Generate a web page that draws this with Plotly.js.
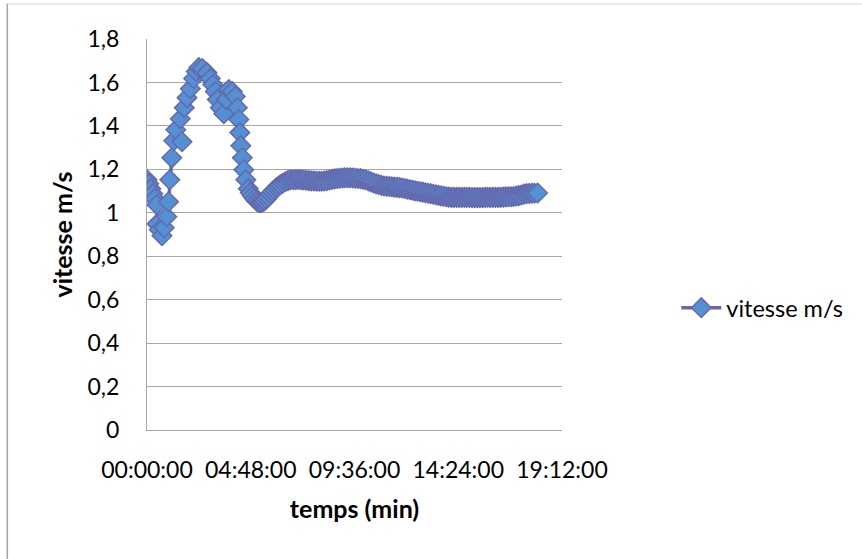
<!DOCTYPE html>
<html>
<head>
<meta charset="utf-8">
<script src="https://cdn.plot.ly/plotly-3.0.1.min.js"></script>
<style>
html,body{margin:0;padding:0;background:#fff;}
#chart{width:862px;height:559px;}
</style>
</head>
<body>
<div id="chart"></div>
<script>
// Time in hours (axis labels shown as hh:mm:ss)
const tempsHeures = [
  0.000, 0.083, 0.176, 0.268, 0.361, 0.453, 0.463, 0.569, 0.694, 0.801,
  0.916, 1.000, 1.055, 1.148, 1.240, 1.333, 1.620, 1.541, 1.726, 1.851,
  2.004, 2.156, 2.281, 2.397, 2.559, 2.777, 2.929, 3.045, 3.161, 3.253,
  3.392, 3.554, 3.670, 3.785, 3.947, 4.086, 4.179, 4.248, 4.294, 4.341,
  4.410, 4.479, 4.572, 4.688, 4.780, 4.873, 4.970, 5.058, 5.150, 5.243,
  5.340, 5.428, 5.520, 5.614, 5.710, 5.799, 5.890, 5.984, 6.080, 6.169,
  6.280, 6.400, 6.520, 6.632,
  6.76, 6.88, 7.00, 7.12, 7.24, 7.36, 7.48, 7.60, 7.72, 7.84,
  7.96, 8.08, 8.20, 8.32, 8.44, 8.56, 8.68, 8.80, 8.92, 9.04,
  9.16, 9.28, 9.40, 9.52, 9.64, 9.76, 9.88, 10.00, 10.12, 10.24,
  10.36, 10.48, 10.60, 10.72, 10.84, 10.96, 11.08, 11.20, 11.32, 11.44,
  11.56, 11.68, 11.80, 11.92, 12.04, 12.16, 12.28, 12.40, 12.52, 12.64,
  12.76, 12.88, 13.00, 13.12, 13.24, 13.36, 13.48, 13.60, 13.72, 13.84,
  13.96, 14.08, 14.20, 14.32, 14.44, 14.56, 14.68, 14.80, 14.92, 15.04,
  15.16, 15.28, 15.40, 15.52, 15.64, 15.76, 15.88, 16.00, 16.12, 16.24,
  16.36, 16.48, 16.60, 16.72, 16.84, 16.96, 17.08, 17.20, 17.32, 17.44,
  17.56, 17.68, 17.80, 17.92, 18.07
];
const vitesse = [
  1.152, 1.134, 1.111, 1.088, 1.065, 1.037, 0.949, 0.922, 0.894, 0.931,
  0.982, 1.051, 1.152, 1.253, 1.332, 1.382, 1.327, 1.433, 1.484, 1.530,
  1.571, 1.618, 1.650, 1.668, 1.664, 1.645, 1.618, 1.590, 1.558, 1.521,
  1.484, 1.456, 1.521, 1.567, 1.558, 1.535, 1.484, 1.429, 1.369, 1.309,
  1.253, 1.198, 1.152, 1.111, 1.092, 1.078, 1.066, 1.055, 1.049, 1.046,
  1.049, 1.055, 1.064, 1.074, 1.086, 1.097, 1.106, 1.115, 1.122, 1.129,
  1.136, 1.143, 1.148, 1.152,
  1.152, 1.152, 1.153, 1.152, 1.151, 1.150, 1.148, 1.147, 1.146, 1.145,
  1.145, 1.145, 1.146, 1.148, 1.151, 1.154, 1.156, 1.158, 1.159, 1.160,
  1.161, 1.161, 1.161, 1.160, 1.159, 1.158, 1.157, 1.154, 1.152, 1.147,
  1.142, 1.137, 1.133, 1.130, 1.126, 1.123, 1.122, 1.121, 1.120, 1.118,
  1.117, 1.116, 1.114, 1.112, 1.109, 1.106, 1.104, 1.101, 1.099, 1.097,
  1.095, 1.092, 1.090, 1.088, 1.085, 1.083, 1.080, 1.078, 1.076, 1.074,
  1.072, 1.071, 1.071, 1.071, 1.071, 1.071, 1.071, 1.071, 1.071, 1.070,
  1.070, 1.070, 1.070, 1.070, 1.071, 1.071, 1.071, 1.071, 1.071, 1.071,
  1.071, 1.072, 1.073, 1.074, 1.074, 1.075, 1.077, 1.079, 1.082, 1.086,
  1.088, 1.089, 1.090, 1.090, 1.091
];
const xTickVals = [0, 4.8, 9.6, 14.4, 19.2];
const xTickText = ['00:00:00', '04:48:00', '09:36:00', '14:24:00', '19:12:00'];
const yTickVals = [0, 0.2, 0.4, 0.6, 0.8, 1, 1.2, 1.4, 1.6, 1.8];
const yTickText = ['0', '0,2', '0,4', '0,6', '0,8', '1', '1,2', '1,4', '1,6', '1,8'];
const serieNom = 'vitesse m/s';

const FONT = 'Lato, "Open Sans", sans-serif';
const gridCol = '#a6a6a6';

const trace = {
  x: tempsHeures,
  y: vitesse,
  type: 'scatter',
  mode: 'lines+markers',
  name: serieNom,
  line: {color: '#6668ad', width: 3.5},
  marker: {symbol: 'diamond', size: 15, color: '#5490d2', line: {color: '#6668ad', width: 1.5}},
  hoverinfo: 'x+y'
};

const L = 146.7, R = 862 - 561.7, T = 39.3, B = 559 - 430;
const W = 862 - L - R, H = 559 - T - B;
const px = v => (v - L) / W;
const py = v => (559 - B - v) / H;

const layout = {
  width: 862, height: 559,
  margin: {l: L, r: R, t: T, b: B, pad: 0},
  paper_bgcolor: '#fff', plot_bgcolor: '#fff',
  font: {family: FONT, size: 23, color: '#000'},
  showlegend: true,
  legend: {
    x: px(676), y: py(308), xanchor: 'left', yanchor: 'middle',
    font: {family: FONT, size: 23.5, color: '#000'},
    bgcolor: 'rgba(0,0,0,0)', itemwidth: 40
  },
  xaxis: {
    range: [0, 19.2], tickvals: xTickVals, ticktext: xTickText,
    showgrid: false, zeroline: false,
    showline: true, linecolor: gridCol, linewidth: 1,
    ticks: 'outside', ticklen: 19, tickcolor: 'rgba(0,0,0,0)',
    tickfont: {family: FONT, size: 23, color: '#000'},
    title: {text: 'temps (min)', font: {family: FONT, size: 25, color: '#000', weight: 'bold'}, standoff: 18},
    fixedrange: true
  },
  yaxis: {
    range: [0, 1.8], tickvals: yTickVals, ticktext: yTickText,
    showgrid: true, gridcolor: gridCol, gridwidth: 1, zeroline: false,
    showline: true, linecolor: gridCol, linewidth: 1,
    ticks: 'outside', ticklen: 22, tickcolor: 'rgba(0,0,0,0)',
    tickfont: {family: FONT, size: 23, color: '#000'},
    title: {text: 'vitesse m/s', font: {family: FONT, size: 25, color: '#000', weight: 'bold'}, standoff: 7},
    fixedrange: true
  },
  shapes: [
    {type: 'line', xref: 'paper', yref: 'paper', x0: px(5), x1: px(862), y0: py(4.3), y1: py(4.3), line: {color: '#d9d9d9', width: 1}},
    {type: 'line', xref: 'paper', yref: 'paper', x0: px(7), x1: px(7), y0: py(4.3), y1: py(559), line: {color: '#a6a6a6', width: 1.5}}
  ]
};

Plotly.newPlot('chart', [trace], layout, {displayModeBar: false, staticPlot: true});
</script>
</body>
</html>
